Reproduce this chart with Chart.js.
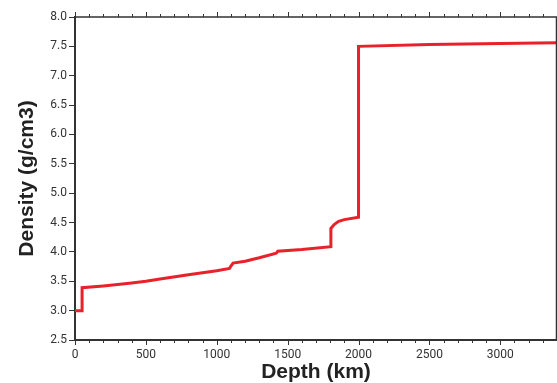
<!DOCTYPE html>
<html><head><meta charset="utf-8">
<script src="https://cdn.jsdelivr.net/npm/chart.js@4"></script>
<style>html,body{margin:0;padding:0;background:#fff;}#wrap{width:557px;height:383px;}</style>
</head><body><div id="wrap"><canvas id="c" width="557" height="383"></canvas></div>
<script>
const depthKm = [0, 50, 50, 200, 400, 500, 600, 800, 1000, 1090, 1100, 1115, 1200, 1300, 1420, 1430, 1600, 1805, 1805, 1830, 1860, 1900, 2000, 2000, 2500, 3000, 3400];
const densityGcm3 = [3.0, 3.0, 3.39, 3.42, 3.47, 3.50, 3.54, 3.61, 3.68, 3.72, 3.76, 3.81, 3.84, 3.90, 3.98, 4.01, 4.04, 4.09, 4.40, 4.47, 4.52, 4.55, 4.59, 7.50, 7.53, 7.55, 7.56];
const xTicks = [0, 500, 1000, 1500, 2000, 2500, 3000];
const yTicks = [2.5, 3.0, 3.5, 4.0, 4.5, 5.0, 5.5, 6.0, 6.5, 7.0, 7.5, 8.0];

const points = depthKm.map((d, i) => ({x: d, y: densityGcm3[i]}));
const AX = '#333333';

const frame = {
  id: 'frame',
  afterDraw(chart) {
    const {ctx, chartArea: a, scales} = chart;
    const xs = scales.x;
    ctx.save();
    ctx.strokeStyle = AX;
    ctx.lineWidth = 1.5;
    ctx.beginPath();
    ctx.moveTo(a.left, a.top); ctx.lineTo(a.right, a.top);
    ctx.moveTo(a.right - 0.5, a.top); ctx.lineTo(a.right - 0.5, a.bottom);
    ctx.stroke();
    ctx.lineWidth = 1;
    for (let v = 0; v <= 3400; v += 100) {
      const px = Math.round(xs.getPixelForValue(v)) + 0.5;
      const major = v % 500 === 0;
      const len = major ? 5 : 3;
      ctx.beginPath();
      ctx.moveTo(px, a.bottom); ctx.lineTo(px, a.bottom + len);
      ctx.moveTo(px, a.top); ctx.lineTo(px, a.top - len);
      ctx.stroke();
    }
    ctx.restore();
  }
};

new Chart(document.getElementById('c'), {
  type: 'scatter',
  data: { datasets: [{
    data: points, showLine: true, borderColor: '#e8212b', borderWidth: 3,
    pointRadius: 0, tension: 0, fill: false, borderJoinStyle: 'miter'
  }]},
  options: {
    responsive: false, animation: false,
    layout: { padding: { top: 17, right: 0, left: 0, bottom: 0 } },
    plugins: { legend: { display: false }, tooltip: { enabled: false } },
    scales: {
      x: {
        type: 'linear', min: 0, max: 3400,
        afterBuildTicks(s) { s.ticks = xTicks.map(v => ({value: v})); },
        afterFit(s) { s.height = 43; },
        grid: { display: false, drawTicks: false },
        border: { display: true, color: AX, width: 2 },
        ticks: { padding: 8, color: AX, font: { family: 'Roboto', size: 12 }, maxRotation: 0, autoSkip: false, callback: v => String(v) },
        title: { display: true, text: 'Depth (km)', color: '#222', font: { family: 'Liberation Sans', size: 21, weight: 'bold' }, padding: { top: 0, bottom: -2 } }
      },
      y: {
        type: 'linear', min: 2.5, max: 8.0,
        afterBuildTicks(s) { s.ticks = yTicks.map(v => ({value: v})); },
        afterFit(s) { s.width = 75; },
        grid: { drawOnChartArea: false, tickLength: 6, color: AX, tickColor: AX },
        border: { display: true, color: AX, width: 2 },
        ticks: { padding: 2, color: AX, font: { family: 'Roboto', size: 12 }, callback: v => v.toFixed(1) },
        title: { display: true, text: 'Density (g/cm3)', color: '#222', font: { family: 'Liberation Sans', size: 21, weight: 'bold' }, padding: { top: 15, bottom: 0 } }
      }
    }
  },
  plugins: [frame]
});
</script></body></html>
